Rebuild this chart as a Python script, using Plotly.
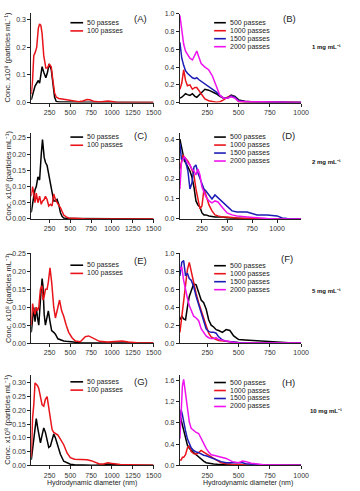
import plotly.graph_objects as go

W, H = 360, 491

# ---------------- data ----------------
A_x = [30, 45, 60, 75, 95, 115, 130, 145, 160, 180, 205, 225, 245, 270, 290, 310, 330, 360, 420, 500, 550, 600, 650, 700, 730, 780, 850, 900, 950, 1000, 1050, 1200, 1500]
A_50 = [0.01, 0.03, 0.05, 0.06, 0.07, 0.08, 0.07, 0.11, 0.13, 0.11, 0.09, 0.11, 0.14, 0.12, 0.06, 0.02, 0.004, 0.002, 0.002, 0.001, 0.001, 0.001, 0.001, 0.001, 0.001, 0.001, 0.0, 0.0, 0.0, 0.0, 0.0, 0.0, 0.0]
A_100 = [0.03, 0.08, 0.17, 0.18, 0.20, 0.27, 0.285, 0.28, 0.25, 0.17, 0.125, 0.125, 0.14, 0.13, 0.08, 0.035, 0.02, 0.015, 0.012, 0.008, 0.004, 0.003, 0.006, 0.011, 0.01, 0.005, 0.002, 0.003, 0.006, 0.004, 0.001, 0.0, 0.0]

B_x = [30, 45, 60, 75, 90, 110, 130, 150, 165, 180, 200, 230, 260, 290, 320, 350, 380, 410, 440, 470, 500, 550, 600, 700, 800, 900, 1000]
B_500 = [0.05, 0.06, 0.08, 0.1, 0.09, 0.08, 0.1, 0.07, 0.06, 0.08, 0.1, 0.15, 0.14, 0.12, 0.1, 0.07, 0.05, 0.05, 0.085, 0.07, 0.03, 0.015, 0.01, 0.01, 0.005, 0.002, 0.0]
B_1000 = [0.15, 0.22, 0.37, 0.25, 0.19, 0.2, 0.15, 0.17, 0.17, 0.14, 0.1, 0.04, 0.02, 0.01, 0.005, 0.01, 0.03, 0.06, 0.08, 0.06, 0.01, 0.005, 0.003, 0.002, 0.0, 0.0, 0.0]
B_1500 = [0.68, 0.5, 0.42, 0.36, 0.33, 0.3, 0.28, 0.27, 0.28, 0.26, 0.24, 0.21, 0.18, 0.15, 0.12, 0.08, 0.05, 0.05, 0.075, 0.06, 0.02, 0.01, 0.01, 0.012, 0.005, 0.002, 0.0]
B_2000 = [0.98, 0.8, 0.66, 0.58, 0.55, 0.5, 0.48, 0.53, 0.58, 0.52, 0.44, 0.4, 0.37, 0.3, 0.2, 0.08, 0.05, 0.05, 0.065, 0.05, 0.015, 0.01, 0.01, 0.01, 0.005, 0.002, 0.0]

C_x = [30, 45, 60, 75, 90, 110, 130, 150, 165, 185, 200, 220, 240, 260, 280, 300, 320, 340, 360, 380, 400, 420, 450, 480, 550, 600, 700, 1000, 1500]
C_50 = [0.02, 0.05, 0.07, 0.09, 0.1, 0.13, 0.12, 0.2, 0.245, 0.19, 0.175, 0.165, 0.14, 0.115, 0.08, 0.055, 0.055, 0.06, 0.045, 0.02, 0.008, 0.003, 0.002, 0.001, 0.001, 0.001, 0.0, 0.0, 0.0]
C_100 = [0.07, 0.1, 0.08, 0.05, 0.08, 0.05, 0.07, 0.045, 0.055, 0.06, 0.07, 0.06, 0.04, 0.045, 0.04, 0.077, 0.06, 0.05, 0.042, 0.035, 0.02, 0.012, 0.006, 0.003, 0.002, 0.001, 0.0, 0.0, 0.0]

D_x = [30, 45, 60, 75, 90, 110, 130, 150, 170, 190, 210, 230, 250, 270, 290, 320, 350, 380, 410, 450, 500, 550, 600, 700, 800, 900, 1000, 1050, 1100, 1240]
D_500 = [0.40, 0.36, 0.33, 0.29, 0.28, 0.26, 0.24, 0.21, 0.16, 0.09, 0.07, 0.06, 0.03, 0.02, 0.02, 0.015, 0.012, 0.01, 0.01, 0.01, 0.006, 0.004, 0.002, 0.001, 0.0, 0.0, 0.0, 0.0, 0.0, 0.0]
D_1000 = [0.25, 0.29, 0.32, 0.31, 0.3, 0.29, 0.27, 0.24, 0.22, 0.15, 0.1, 0.05, 0.065, 0.15, 0.12, 0.07, 0.04, 0.02, 0.015, 0.01, 0.01, 0.007, 0.005, 0.003, 0.001, 0.0, 0.0, 0.0, 0.0, 0.0]
D_1500 = [0.38, 0.3, 0.3, 0.31, 0.28, 0.24, 0.15, 0.18, 0.26, 0.27, 0.23, 0.2, 0.17, 0.15, 0.14, 0.12, 0.1, 0.12, 0.105, 0.09, 0.065, 0.04, 0.035, 0.035, 0.02, 0.02, 0.015, 0.005, 0.002, 0.0]
D_2000 = [0.15, 0.28, 0.3, 0.31, 0.3, 0.28, 0.27, 0.25, 0.24, 0.22, 0.25, 0.22, 0.16, 0.13, 0.11, 0.09, 0.08, 0.09, 0.085, 0.06, 0.03, 0.02, 0.015, 0.01, 0.005, 0.002, 0.0, 0.0, 0.0, 0.0]

E_x = [30, 45, 60, 75, 90, 105, 120, 140, 160, 170, 185, 200, 220, 235, 255, 275, 300, 320, 350, 370, 395, 420, 450, 480, 520, 560, 620, 680, 720, 780, 850, 950, 1050, 1120, 1200, 1300, 1500]
E_50 = [0.03, 0.07, 0.1, 0.06, 0.1, 0.07, 0.05, 0.12, 0.18, 0.16, 0.08, 0.05, 0.07, 0.09, 0.06, 0.035, 0.03, 0.025, 0.012, 0.01, 0.008, 0.006, 0.005, 0.004, 0.003, 0.002, 0.001, 0.0, 0.0, 0.0, 0.0, 0.0, 0.0, 0.0, 0.0, 0.0, 0.0]
E_100 = [0.05, 0.11, 0.09, 0.08, 0.1, 0.09, 0.1, 0.15, 0.16, 0.12, 0.13, 0.15, 0.15, 0.17, 0.21, 0.17, 0.1, 0.07, 0.1, 0.12, 0.09, 0.075, 0.05, 0.03, 0.015, 0.006, 0.004, 0.018, 0.02, 0.012, 0.005, 0.003, 0.004, 0.006, 0.003, 0.001, 0.0]

F_x = [30, 45, 60, 75, 90, 105, 120, 140, 160, 180, 200, 220, 240, 260, 280, 300, 320, 340, 370, 400, 430, 460, 500, 550, 600, 700, 800, 900, 1000]
F_500 = [0.26, 0.3, 0.27, 0.26, 0.4, 0.52, 0.58, 0.66, 0.65, 0.55, 0.48, 0.45, 0.38, 0.26, 0.2, 0.18, 0.15, 0.14, 0.12, 0.15, 0.14, 0.08, 0.04, 0.035, 0.03, 0.02, 0.012, 0.005, 0.0]
F_1000 = [0.12, 0.3, 0.45, 0.65, 0.82, 0.9, 0.8, 0.7, 0.55, 0.45, 0.36, 0.28, 0.18, 0.11, 0.07, 0.05, 0.04, 0.03, 0.025, 0.02, 0.01, 0.008, 0.005, 0.003, 0.002, 0.001, 0.0, 0.0, 0.0]
F_1500 = [0.75, 0.9, 0.92, 0.75, 0.78, 0.72, 0.7, 0.63, 0.52, 0.43, 0.36, 0.25, 0.16, 0.13, 0.12, 0.12, 0.11, 0.07, 0.035, 0.02, 0.015, 0.01, 0.008, 0.005, 0.003, 0.002, 0.001, 0.0, 0.0]
F_2000 = [0.82, 0.85, 0.7, 0.58, 0.5, 0.42, 0.36, 0.3, 0.28, 0.25, 0.16, 0.12, 0.08, 0.06, 0.05, 0.05, 0.06, 0.04, 0.03, 0.02, 0.01, 0.008, 0.005, 0.003, 0.002, 0.001, 0.0, 0.0, 0.0]

G_x = [30, 45, 60, 75, 90, 105, 120, 140, 160, 180, 200, 220, 240, 260, 280, 300, 320, 350, 380, 420, 460, 500, 550, 600, 650, 700, 750, 800, 850, 900, 950, 1000, 1100, 1200, 1300, 1500]
G_50 = [0.02, 0.06, 0.09, 0.12, 0.17, 0.14, 0.11, 0.082, 0.11, 0.136, 0.12, 0.09, 0.065, 0.07, 0.09, 0.114, 0.1, 0.07, 0.04, 0.015, 0.008, 0.004, 0.002, 0.001, 0.0, 0.0, 0.0, 0.0, 0.0, 0.002, 0.005, 0.003, 0.001, 0.0, 0.0, 0.0]
G_100 = [0.03, 0.17, 0.22, 0.30, 0.295, 0.29, 0.28, 0.25, 0.22, 0.215, 0.24, 0.25, 0.21, 0.17, 0.13, 0.12, 0.115, 0.11, 0.095, 0.075, 0.045, 0.028, 0.022, 0.022, 0.022, 0.02, 0.017, 0.01, 0.005, 0.005, 0.009, 0.007, 0.003, 0.002, 0.001, 0.0]

H_x = [30, 40, 50, 60, 75, 90, 105, 120, 140, 160, 180, 200, 220, 240, 260, 280, 300, 330, 360, 400, 450, 500, 530, 560, 600, 650, 700, 800, 900, 1000]
H_500 = [0.95, 0.85, 0.75, 0.65, 0.5, 0.38, 0.32, 0.28, 0.24, 0.2, 0.16, 0.11, 0.08, 0.05, 0.04, 0.03, 0.025, 0.02, 0.015, 0.01, 0.008, 0.005, 0.003, 0.002, 0.0, 0.0, 0.0, 0.0, 0.0, 0.0]
H_1000 = [0.1, 0.1, 0.15, 0.15, 0.2, 0.33, 0.37, 0.26, 0.22, 0.21, 0.24, 0.28, 0.25, 0.22, 0.18, 0.15, 0.13, 0.09, 0.05, 0.03, 0.02, 0.01, 0.005, 0.003, 0.0, 0.0, 0.0, 0.0, 0.0, 0.0]
H_1500 = [0.85, 1.05, 0.95, 0.8, 0.65, 0.5, 0.42, 0.33, 0.28, 0.25, 0.24, 0.21, 0.19, 0.18, 0.16, 0.15, 0.13, 0.1, 0.07, 0.05, 0.05, 0.06, 0.05, 0.03, 0.02, 0.01, 0.005, 0.0, 0.0, 0.0]
H_2000 = [0.5, 1.2, 1.5, 1.62, 1.35, 1.0, 0.82, 0.7, 0.65, 0.62, 0.6, 0.5, 0.4, 0.32, 0.25, 0.2, 0.19, 0.17, 0.15, 0.13, 0.07, 0.05, 0.08, 0.07, 0.04, 0.02, 0.01, 0.005, 0.0, 0.0]

left_names = ["50 passes", "100 passes"]
right_names = ["500 passes", "1000 passes", "1500 passes", "2000 passes"]
left_colors = ["#000000", "#e8141a"]
right_colors = ["#000000", "#e8141a", "#1c1cb4", "#ee12ee"]
panel_letters = ["(A)", "(B)", "(C)", "(D)", "(E)", "(F)", "(G)", "(H)"]
conc_labels = ["1 mg mL⁻¹", "2 mg mL⁻¹", "5 mg mL⁻¹", "10 mg mL⁻¹"]
left_xticks = [250, 500, 750, 1000, 1250, 1500]
right_xticks = [250, 500, 750, 1000]
y_title = "Conc. x10⁸ (particles mL⁻¹)"
x_title = "Hydrodynamic diameter (nm)"

panels = [
    dict(x=A_x, ys=[A_50, A_100], yr=[0, 0.325], yt=[0, 0.1, 0.2, 0.3], fmt=".1f", xr=[30, 1500]),
    dict(x=B_x, ys=[B_500, B_1000, B_1500, B_2000], yr=[0, 1.0], yt=[0, 0.2, 0.4, 0.6, 0.8, 1.0], fmt=".1f", xr=[30, 1000]),
    dict(x=C_x, ys=[C_50, C_100], yr=[0, 0.265], yt=[0, 0.05, 0.1, 0.15, 0.2, 0.25], fmt=".2f", xr=[30, 1500]),
    dict(x=D_x, ys=[D_500, D_1000, D_1500, D_2000], yr=[0, 0.43], yt=[0, 0.1, 0.2, 0.3, 0.4], fmt=".1f", xr=[30, 1240]),
    dict(x=E_x, ys=[E_50, E_100], yr=[0, 0.25], yt=[0, 0.05, 0.1, 0.15, 0.2, 0.25], fmt=".2f", xr=[30, 1500]),
    dict(x=F_x, ys=[F_500, F_1000, F_1500, F_2000], yr=[0, 1.0], yt=[0, 0.2, 0.4, 0.6, 0.8, 1.0], fmt=".1f", xr=[30, 1000]),
    dict(x=G_x, ys=[G_50, G_100], yr=[0, 0.33], yt=[0, 0.05, 0.1, 0.15, 0.2, 0.25, 0.3], fmt=".2f", xr=[30, 1500]),
    dict(x=H_x, ys=[H_500, H_1000, H_1500, H_2000], yr=[0, 1.71], yt=[0, 0.4, 0.8, 1.2, 1.6], fmt=".1f", xr=[30, 1000]),
]

# ---------------- layout geometry (pixels) ----------------
col_px = [(32, 157), (184, 308)]
row_px = [(9, 100), (131, 218), (253, 344), (376, 468)]
row_px_right = [(10, 100), (131, 218), (253, 344), (376, 468)]

def px(x):
    return x / W

def py(y):
    return 1 - y / H

FONT = "Liberation Sans, Arial, sans-serif"
fig = go.Figure()
layout = dict(width=W, height=H, margin=dict(l=0, r=0, t=0, b=0),
              paper_bgcolor="white", plot_bgcolor="white", showlegend=False,
              font=dict(family=FONT, size=7, color="#222"))
annotations = []
shapes = []

for i, p in enumerate(panels):
    r, c = divmod(i, 2)
    n = i + 1
    xa = "xaxis" if n == 1 else f"xaxis{n}"
    ya = "yaxis" if n == 1 else f"yaxis{n}"
    xref = "x" if n == 1 else f"x{n}"
    yref = "y" if n == 1 else f"y{n}"
    names = left_names if c == 0 else right_names
    colors = left_colors if c == 0 else right_colors
    for name, col, yv in zip(names, colors, p["ys"]):
        fig.add_trace(go.Scatter(x=p["x"], y=yv, mode="lines", name=name,
                                 line=dict(color=col, width=1.5), xaxis=xref, yaxis=yref))
    x0, x1 = col_px[c]
    y0, y1 = (row_px if c == 0 else row_px_right)[r]
    axis_common = dict(showline=True, linecolor="#222", linewidth=1, ticks="outside",
                       ticklen=3, tickwidth=1, tickcolor="#222", showgrid=False, zeroline=False,
                       tickfont=dict(family=FONT, size=7, color="#333"))
    layout[xa] = dict(domain=[px(x0), px(x1)], range=p["xr"], anchor=yref,
                      tickvals=left_xticks if c == 0 else right_xticks, **axis_common)
    layout[ya] = dict(domain=[py(y1), py(y0)], range=p["yr"], anchor=xref,
                      tickvals=p["yt"], tickformat=p["fmt"], **axis_common)

    # compact legend keys
    if c == 0:
        lx0, lx1, tx = 72, 85, 87
        ly = [[19, 27.3], [135, 143.3], [265, 273.3], [383.3, 391.7]][r]
    else:
        lx0, lx1, tx = 219, 231, 233
        base = [19, 135, 265.5, 384][r]
        ly = [base + k * 8.1 for k in range(4)]
    for name, col, yy in zip(names, colors, ly):
        shapes.append(dict(type="line", xref="paper", yref="paper",
                           x0=px(lx0), x1=px(lx1), y0=py(yy), y1=py(yy),
                           line=dict(color=col, width=1.6)))
        annotations.append(dict(text=name, xref="paper", yref="paper", x=px(tx), y=py(yy),
                                xanchor="left", yanchor="middle", showarrow=False,
                                font=dict(family=FONT, size=7, color="#222")))
    # panel letter
    lpos = [(144, 15), (296, 15), (144, 133), (295, 133), (144, 260), (294, 258), (144, 383), (295, 384)][i]
    annotations.append(dict(text=panel_letters[i], xref="paper", yref="paper",
                            x=px(lpos[0]), y=py(lpos[1]), xanchor="center", yanchor="middle",
                            showarrow=False, font=dict(family=FONT, size=9.5, color="#222")))

# y titles (left column)
for r in range(4):
    y0, y1 = row_px[r]
    annotations.append(dict(text=y_title, xref="paper", yref="paper", x=px(8), y=py((y0 + y1) / 2),
                            textangle=-90, xanchor="center", yanchor="middle", showarrow=False,
                            font=dict(family=FONT, size=7.5, color="#222")))

# concentration labels
for r, (lab, yy) in enumerate(zip(conc_labels, [44, 160, 291, 413])):
    annotations.append(dict(text="<b>" + lab + "</b>", xref="paper", yref="paper",
                            x=px(317 if r < 3 else 315), y=py(yy), xanchor="left", yanchor="middle",
                            showarrow=False, font=dict(family=FONT, size=6, color="#111")))

# x titles
for cx in [94.5, 254]:
    annotations.append(dict(text=x_title, xref="paper", yref="paper", x=px(cx), y=py(486),
                            xanchor="center", yanchor="middle", showarrow=False,
                            font=dict(family=FONT, size=7, color="#222")))

layout["annotations"] = annotations
layout["shapes"] = shapes
fig.update_layout(**layout)
fig.write_html("out.html")
